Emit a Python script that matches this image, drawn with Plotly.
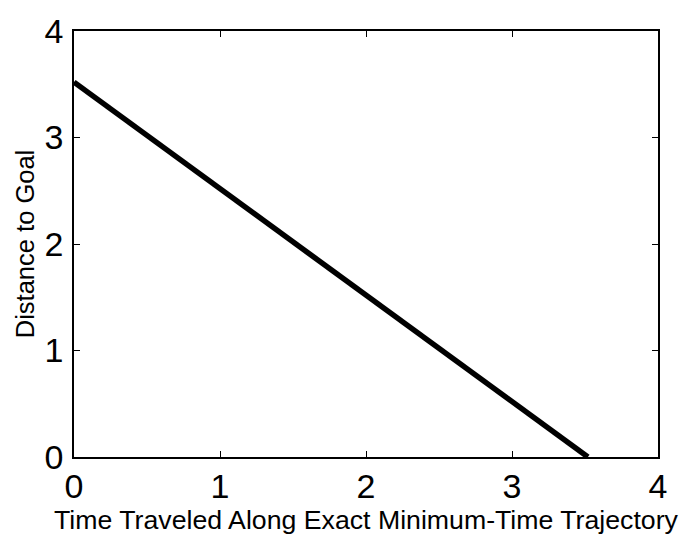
import plotly.graph_objects as go

time_traveled = [0.0, 3.52]
distance_to_goal = [3.52, 0.0]
x_ticks = [0, 1, 2, 3, 4]
y_ticks = [0, 1, 2, 3, 4]

fig = go.Figure()
fig.add_trace(go.Scatter(x=time_traveled, y=distance_to_goal, mode="lines",
                         line=dict(color="black", width=5.5), showlegend=False))

axis_common = dict(
    showgrid=False, zeroline=False, showline=True, linecolor="black", linewidth=1.5,
    mirror="ticks", ticks="inside", ticklen=6, tickwidth=1.2, tickcolor="black",
    tickfont=dict(family="Liberation Sans, Arial", size=34, color="black"),
)

fig.update_layout(
    width=681, height=535,
    margin=dict(l=74, r=23, t=20, b=77),
    paper_bgcolor="white", plot_bgcolor="white",
    xaxis=dict(range=[0, 4], tickvals=x_ticks, ticktext=[str(v) for v in x_ticks],
               title=dict(text="Time Traveled Along Exact Minimum-Time Trajectory",
                          font=dict(family="Liberation Sans, Arial", size=26.7, color="black"),
                          standoff=0),
               ticklabelstandoff=-2, **axis_common),
    yaxis=dict(range=[0, 4], tickvals=y_ticks, ticktext=[str(v) for v in y_ticks],
               title=dict(text="Distance to Goal",
                          font=dict(family="Liberation Sans, Arial", size=25.5, color="black"),
                          standoff=3),
               ticklabelstandoff=2, **axis_common),
)

fig.write_html("out.html")
